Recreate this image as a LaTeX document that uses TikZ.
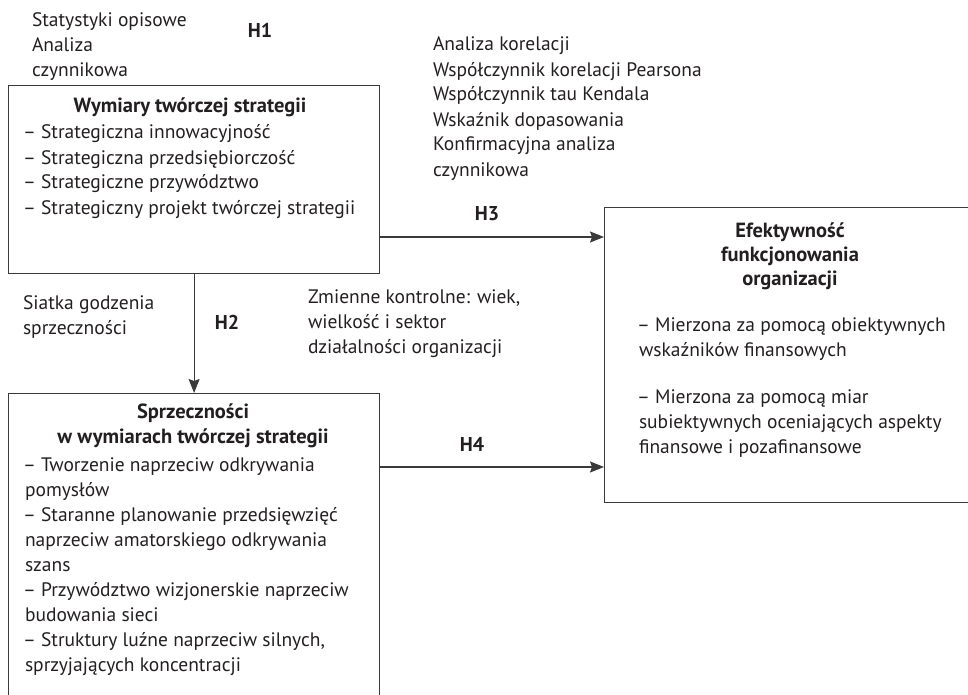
\documentclass[tikz,border=0pt]{standalone}
\usepackage{fontspec}
\setmainfont{PT Sans}
\usetikzlibrary{arrows.meta}
\definecolor{ink}{HTML}{231F20}
\definecolor{edge}{HTML}{3A3A3A}
\begin{document}
\begin{tikzpicture}[x=1pt,y=-1pt,
  every node/.style={text=ink},
  box/.style={draw=edge, line width=1.2pt, inner sep=0pt, anchor=north west},
  txt/.style={anchor=north west, inner sep=0pt, outer sep=0pt, yshift=17.5pt, align=left, font=\fontsize{19.5}{25}\selectfont},
  ctxt/.style={anchor=north, inner sep=0pt, outer sep=0pt, yshift=17.5pt, align=center, font=\fontsize{20.5}{25}\selectfont\bfseries},
  hyp/.style={anchor=base, inner sep=0pt, font=\fontsize{20}{25}\selectfont\bfseries},
  arr/.style={draw=edge, line width=1.2pt, -{Stealth[length=14pt,width=11pt,inset=2pt]}}
]
\useasboundingbox (0,0) rectangle (968,695);
\clip (0,0) rectangle (968,695);

% boxes
\node[box, minimum width=371pt, minimum height=188pt] (b1) at (8,85) {};
\node[box, minimum width=371pt, minimum height=330pt] (b2) at (8,393) {};
\node[box, minimum width=372pt, minimum height=295pt] (b3) at (604,207) {};

% connectors
\coordinate (h3y) at (0,237);
\coordinate (h4y) at (0,467);
\draw[arr] (b1.south) -- (b2.north);
\draw[arr] (b1.east |- h3y) -- (b3.west |- h3y);
\draw[arr] (b2.east |- h4y) -- (b3.west |- h4y);

% labels
\node[txt] (stat) at (32,27) {\strut Statystyki opisowe\\Analiza\\czynnikowa};
\node[hyp] (H1) at (260,38) {H1};
\node[txt] (kor) at (433,51) {\strut Analiza korelacji\\Współczynnik korelacji Pearsona\\Współczynnik tau Kendala\\Wskaźnik dopasowania\\Konfirmacyjna analiza\\czynnikowa};
\node[hyp] (H3) at (487,220) {H3};
\node[hyp] (H2) at (227,329) {H2};
\node[hyp] (H4) at (472,451) {H4};
\node[txt] (siat) at (23,309) {\strut Siatka godzenia\\sprzeczności};
\node[txt] (zmi) at (308,303) {\strut Zmienne kontrolne: wiek,\\wielkość i sektor\\działalności organizacji};

% box contents
\node[ctxt] (b1t) at (190,113) {\strut Wymiary twórczej strategii};
\node[txt] (b1i) at (23,139) {\strut – Strategiczna innowacyjność\\– Strategiczna przedsiębiorczość\\– Strategiczne przywództwo\\– Strategiczny projekt twórczej strategii};

\node[ctxt] (b2t) at (193,418) {\strut Sprzeczności\\w wymiarach twórczej strategii};
\node[txt] (b2i) at (23,471) {\strut – Tworzenie naprzeciw odkrywania\\\hspace{2pt}pomysłów\\– Staranne planowanie przedsięwzięć\\\hspace{2pt}naprzeciw amatorskiego odkrywania\\\hspace{2pt}szans\\– Przywództwo wizjonerskie naprzeciw\\\hspace{2pt}budowania sieci\\– Struktury luźne naprzeciw silnych,\\\hspace{2pt}sprzyjających koncentracji};

\node[ctxt, font=\fontsize{20.5}{24}\selectfont\bfseries] (b3t) at (790,238) {\strut Efektywność\\funkcjonowania\\organizacji};
\node[txt] (b3i) at (637,331) {\strut – Mierzona za pomocą obiektywnych\\\hspace{2pt}wskaźników finansowych\\[22pt]– Mierzona za pomocą miar\\\hspace{2pt}subiektywnych oceniających aspekty\\\hspace{2pt}finansowe i pozafinansowe};
\end{tikzpicture}
\end{document}
